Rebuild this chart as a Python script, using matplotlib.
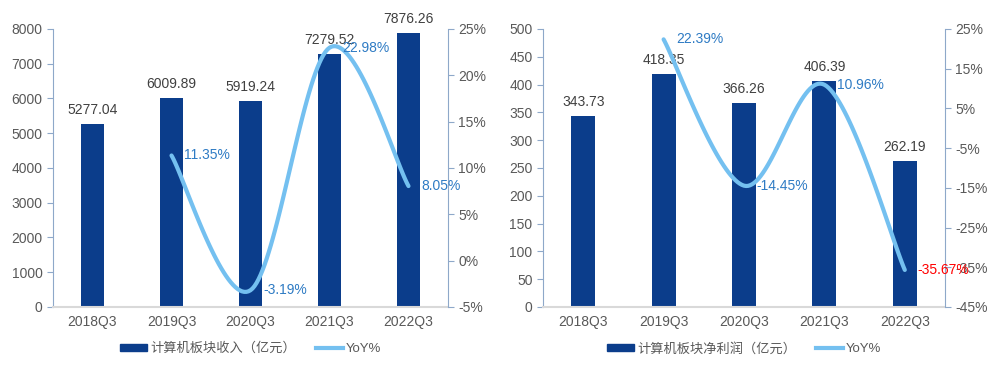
import numpy as np
import matplotlib.pyplot as plt
from matplotlib.lines import Line2D
from matplotlib.patches import Patch

plt.rcParams['font.family'] = ['Liberation Sans', 'Noto Sans CJK SC', 'DejaVu Sans']

# data
quarters = ["2018Q3", "2019Q3", "2020Q3", "2021Q3", "2022Q3"]
revenue = [5277.04, 6009.89, 5919.24, 7279.52, 7876.26]
revenue_yoy = [None, 11.35, -3.19, 22.98, 8.05]
profit = [343.73, 418.35, 366.26, 406.39, 262.19]
profit_yoy = [None, 22.39, -14.45, 10.96, -35.67]

BAR = "#0B3D8B"
LINE = "#74C0F0"
LBL = "#2E7BC4"
GREY = "#595959"
SPINE = "#8EA8C9"

fig = plt.figure(figsize=(10, 3.67), dpi=100)


def smooth(px, py, n=40):
    # Catmull-Rom style smoothing (like a spreadsheet "smoothed line")
    pts = np.column_stack([px, py])
    out = [pts[0]]
    for i in range(len(pts) - 1):
        p0 = pts[i - 1] if i > 0 else pts[i]
        p1, p2 = pts[i], pts[i + 1]
        p3 = pts[i + 2] if i + 2 < len(pts) else pts[i + 1]
        c1 = p1 + (p2 - p0) / 6
        c2 = p2 - (p3 - p1) / 6
        t = np.linspace(0, 1, n)[1:, None]
        seg = ((1 - t) ** 3) * p1 + 3 * ((1 - t) ** 2) * t * c1 + 3 * (1 - t) * t ** 2 * c2 + t ** 3 * p2
        out.extend(seg)
    return np.array(out)


def panel(rect, bars, yoy, ylim, yticks, y2lim, y2ticks, label, red_last=False):
    ax = fig.add_axes(rect)
    x = np.arange(len(quarters))
    ax.bar(x, bars, width=0.3, color=BAR, zorder=2)
    ax.set_xlim(-0.5, len(quarters) - 0.5)
    ax.set_ylim(*ylim)
    ax.set_yticks(yticks)
    ax.set_xticks(x)
    ax.set_xticklabels(quarters)
    for xi, v in zip(x, bars):
        ax.annotate(f"{v:.2f}", (xi, v), xytext=(0, 5), textcoords="offset points",
                    ha="center", va="bottom", fontsize=10, color="#404040", zorder=5)

    ax2 = ax.twinx()
    ax2.set_ylim(*y2lim)
    ax2.set_yticks(y2ticks)
    ax2.set_yticklabels([f"{t}%" for t in y2ticks])

    # smoothed line in pixel-like space
    fig_w, fig_h = fig.get_size_inches() * fig.dpi
    w, h = rect[2] * fig_w, rect[3] * fig_h
    idx = [i for i, v in enumerate(yoy) if v is not None]
    vals = [yoy[i] for i in idx]
    px = (np.array(idx) + 0.5) / len(quarters) * w
    py = (np.array(vals) - y2lim[0]) / (y2lim[1] - y2lim[0]) * h
    curve = smooth(px, py)
    cx = curve[:, 0] / w * len(quarters) - 0.5
    cy = curve[:, 1] / h * (y2lim[1] - y2lim[0]) + y2lim[0]
    ax2.plot(cx, cy, color=LINE, lw=3, solid_capstyle="round", zorder=3)
    for k, (i, v) in enumerate(zip(idx, vals)):
        col = "#FF0000" if (red_last and k == len(idx) - 1) else LBL
        ax2.annotate(f"{v:.2f}%", (i, v), xytext=(9, 0), textcoords="offset points",
                     ha="left", va="center", fontsize=10, color=col, zorder=6)

    for a in (ax, ax2):
        a.spines["top"].set_visible(False)
        a.tick_params(labelsize=10, labelcolor=GREY)
    ax.spines["right"].set_visible(False)
    ax.spines["left"].set_color(SPINE)
    ax.spines["bottom"].set_color("#D9D9D9")
    ax.spines["bottom"].set_linewidth(1.5)
    ax2.spines["left"].set_visible(False)
    ax2.spines["bottom"].set_visible(False)
    ax2.spines["right"].set_color(SPINE)
    ax.tick_params(axis="y", color=SPINE, length=4)
    ax2.tick_params(axis="y", color=SPINE, length=4)
    ax.tick_params(axis="x", length=0, pad=6)

    handles = [Patch(facecolor=BAR, edgecolor=BAR), Line2D([], [], color=LINE, lw=3)]
    leg = ax.legend(handles, [label, "YoY%"], loc="upper center", bbox_to_anchor=(0.5, -0.085),
                    ncol=2, frameon=False, fontsize=9.5, handlelength=2.1, handleheight=0.45,
                    columnspacing=1.5, handletextpad=0.2)
    for t in leg.get_texts():
        t.set_color(GREY)
    return ax, ax2


panel([0.053, 0.1635, 0.395, 0.7575], revenue, revenue_yoy, (0, 8000), range(0, 8001, 1000),
      (-5, 25), list(range(-5, 26, 5)), "计算机板块收入（亿元）")
panel([0.543, 0.1635, 0.402, 0.7575], profit, profit_yoy, (0, 500), range(0, 501, 50),
      (-45, 25), list(range(-45, 26, 10)), "计算机板块净利润（亿元）", red_last=True)

fig.savefig("out.png", dpi=100)
